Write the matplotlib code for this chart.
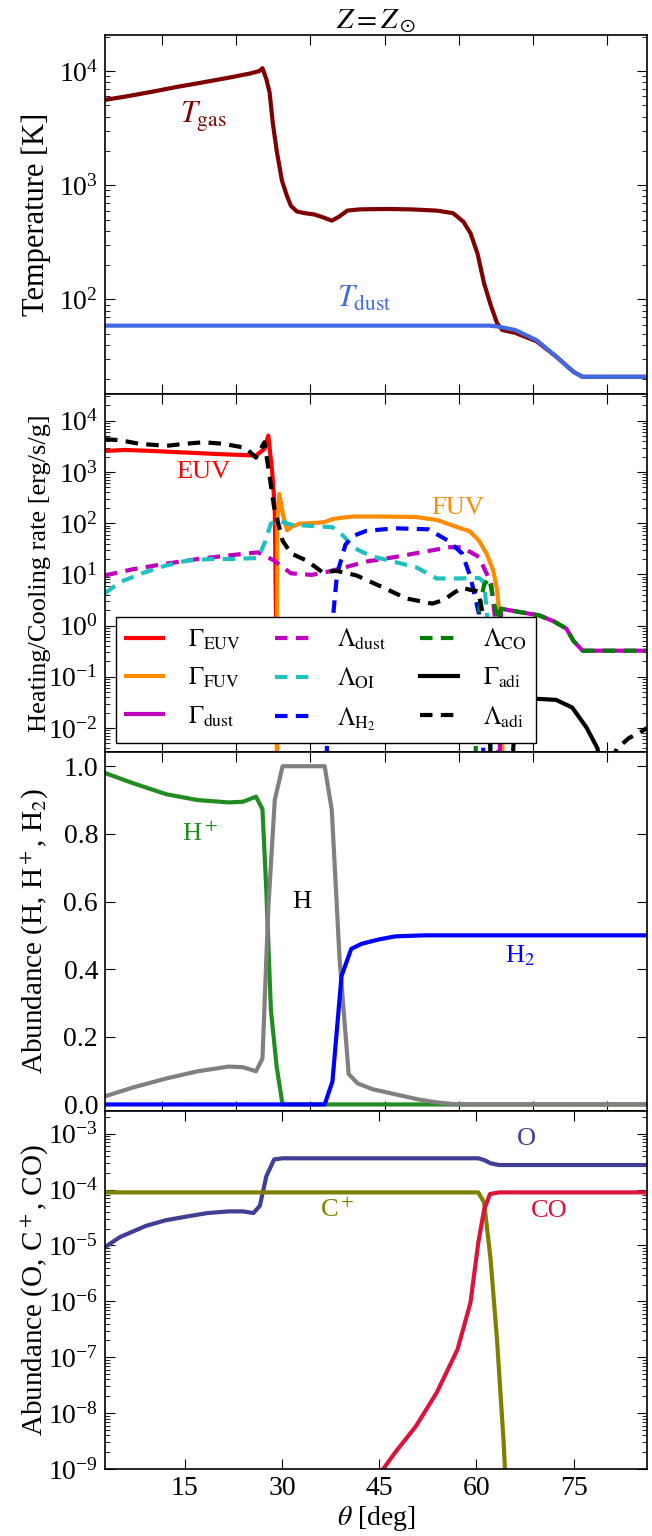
import numpy as np
import matplotlib
matplotlib.use("Agg")
import matplotlib.pyplot as plt
from matplotlib.ticker import LogLocator, NullFormatter, FixedLocator

plt.rcParams["font.family"] = "serif"
plt.rcParams["font.serif"] = ["Liberation Serif", "DejaVu Serif"]
plt.rcParams["mathtext.fontset"] = "stix"
plt.rcParams["font.size"] = 18
plt.rcParams["xtick.direction"] = "in"
plt.rcParams["ytick.direction"] = "in"
plt.rcParams["xtick.top"] = True
plt.rcParams["ytick.right"] = True
plt.rcParams["xtick.major.size"] = 7
plt.rcParams["ytick.major.size"] = 7
plt.rcParams["xtick.minor.size"] = 3.5
plt.rcParams["ytick.minor.size"] = 3.5
plt.rcParams["axes.linewidth"] = 1.2

# ---- panel 1: temperatures
th_gas = [2.7, 6, 10, 14, 18, 22, 25, 26.5, 27.0, 27.6, 28.1, 28.6, 29.2, 30.0, 30.8, 31.4,
          32.3, 33.5, 35.0, 36.5, 37.7, 38.8, 40.1, 42, 46, 50, 53.9, 56.4, 58, 59.1, 60.2,
          61.2, 62.2, 63.2, 64, 66, 69.3, 72.5, 74, 75.1, 76.4, 86.3]
T_gas = [5600, 6000, 6600, 7300, 8000, 8800, 9500, 10000, 10600, 8500, 6500, 3500, 2000, 1100,
         800, 660, 590, 570, 555, 520, 490, 530, 600, 615, 620, 615, 600, 570, 480, 380, 250,
         138, 90, 62, 54, 51, 43, 31, 26, 23, 21, 21]
th_dust = [2.7, 62.0, 63.2, 64, 66, 69.3, 72.5, 74, 75.1, 76.4, 86.3]
T_dust = [59, 59, 58, 57, 54, 44, 31, 26, 23, 21, 21]
T_ticks = [1e2, 1e3, 1e4]

# ---- panel 2: heating / cooling rates (log10 values)
th_euv = [2.7, 5.8, 10, 15, 20, 26, 27.3, 27.9, 28.5, 28.9, 29.1, 29.3]
lg_euv = [3.41, 3.43, 3.41, 3.38, 3.35, 3.32, 3.45, 3.71, 3.0, 2.3, 0.0, -3]
th_fuv = [29.2, 29.3, 29.6, 30.2, 30.8, 31.5, 32.7, 34.5, 36.6, 37.8, 39.5, 41, 45, 50.7, 54,
          57.1, 59, 60.4, 61.6, 62.6, 63.2, 63.5, 63.8, 64.1]
lg_fuv = [-3, 2.0, 2.57, 2.15, 1.86, 1.93, 1.99, 2.0, 2.02, 2.08, 2.11, 2.13, 2.13, 2.12, 2.06,
          1.92, 1.84, 1.66, 1.4, 1.08, 0.7, 0.3, -0.7, -3]
th_gdust = [63.6, 63.8, 66, 69.7, 72, 73.9, 75, 76.4, 86.3]
lg_gdust = [-3, 0.33, 0.28, 0.2, 0.08, -0.06, -0.3, -0.49, -0.49]
th_ldust = [2.7, 7, 12.2, 17, 21.8, 26.3, 28.8, 31.4, 34.6, 37, 39.8, 43, 47.5, 51, 55.8, 57.8,
            60.4, 62.3, 63.0, 63.5]
lg_ldust = [0.98, 1.1, 1.21, 1.3, 1.37, 1.43, 1.27, 1.02, 0.99, 1.05, 1.14, 1.25, 1.34, 1.42,
            1.53, 1.53, 1.34, 0.82, 0.0, -3]
th_oi = [2.7, 5, 8.4, 12, 15.4, 19, 22.4, 26.3, 27.3, 28.3, 29.5, 31.4, 34, 37.8, 39.5, 41,
         42.5, 44.3, 47.5, 50.7, 53.9, 57.1, 60.4, 61.2, 61.8, 62.3]
lg_oi = [0.63, 0.85, 1.02, 1.17, 1.27, 1.3, 1.3, 1.32, 1.6, 1.99, 2.05, 1.97, 1.95, 1.92, 1.75,
         1.53, 1.43, 1.34, 1.24, 1.14, 0.92, 0.92, 0.93, 0.85, 0.0, -3]
th_h2 = [36.8, 37.4, 38.5, 39.8, 41, 43, 47.5, 52.6, 55.6, 57.8, 59.1, 60.4, 61.2]
lg_h2 = [-3, -0.5, 1.0, 1.58, 1.75, 1.85, 1.9, 1.88, 1.66, 1.41, 0.95, 0.23, -3]
th_co = [59.8, 60.4, 61.2, 62.0, 62.8, 63.4, 63.8, 66, 69.7, 72, 73.9, 75, 76.4, 86.3]
lg_co = [-3, 0.3, 0.8, 0.92, 0.4, 0.1, 0.33, 0.28, 0.2, 0.08, -0.06, -0.3, -0.49, -0.49]
th_gadi = [65.4, 66, 67, 68.5, 69.4, 72.3, 74.8, 77, 78.7, 79.3]
lg_gadi = [-3, -1.8, -1.5, -1.43, -1.43, -1.45, -1.6, -1.99, -2.4, -3]
th_ladi = [2.7, 5, 8, 12.2, 15, 17.9, 21, 24.4, 26, 27.3, 28, 28.8, 30.1, 31.4, 33.8, 36.3,
           38.4, 41.5, 45, 49.2, 53.2, 55, 56.3, 57.8, 59, 60.3, 61.2, 61.8, 62.3]
lg_ladi = [3.64, 3.62, 3.55, 3.51, 3.55, 3.58, 3.55, 3.47, 3.28, 3.58, 3.0, 2.31, 1.66, 1.41,
           1.27, 1.04, 1.07, 0.98, 0.78, 0.53, 0.43, 0.5, 0.62, 0.74, 0.7, 0.67, 0.1, -1, -3]
th_ladi2 = [79.5, 81.7, 83.5, 85.6, 86.3]
lg_ladi2 = [-3, -2.4, -2.2, -2.06, -2.0]
rate_ticks = [1e-2, 1e-1, 1e0, 1e1, 1e2, 1e3, 1e4]

# ---- panel 3: hydrogen abundances
th_hp = [2.7, 7, 12.2, 17, 21.8, 24, 26, 27.0, 27.6, 28.3, 29.2, 30.1, 86.3]
x_hp = [0.98, 0.95, 0.917, 0.9, 0.893, 0.895, 0.91, 0.873, 0.63, 0.28, 0.11, 0.0, 0.0]
th_h = [2.7, 7, 12.2, 17, 21.8, 24, 26, 27.0, 27.9, 28.9, 30.1, 36.6, 37.7, 38.9, 40.3, 41.7,
        44, 47.5, 51, 53.9, 57, 86.3]
x_h = [0.024, 0.05, 0.077, 0.098, 0.112, 0.11, 0.098, 0.136, 0.58, 0.9, 1.0, 1.0, 0.87, 0.43,
       0.09, 0.062, 0.045, 0.03, 0.015, 0.006, 0.0, 0.0]
th_h2a = [2.7, 36.6, 37.8, 39.2, 40.7, 42.3, 45, 47.5, 52, 57, 86.3]
x_h2a = [0.0, 0.0, 0.068, 0.38, 0.46, 0.475, 0.488, 0.497, 0.5, 0.5, 0.5]

# ---- panel 4: O, C+, CO abundances (log10)
th_o = [2.7, 5, 9, 12, 15.4, 18.5, 21.8, 24, 25.6, 26.6, 27.6, 28.8, 30.1, 60.3, 61.2, 62.2,
        63.5, 86.3]
lg_o = [-5.03, -4.85, -4.65, -4.55, -4.48, -4.42, -4.39, -4.39, -4.42, -4.29, -3.76, -3.46,
        -3.44, -3.44, -3.47, -3.53, -3.56, -3.56]
th_cp = [2.7, 60.3, 61.2, 62.2, 63.2, 64.2, 64.5]
lg_cp = [-4.05, -4.05, -4.23, -5.25, -6.7, -8.5, -9.2]
th_co2 = [45.0, 47.5, 50.7, 53.9, 57.1, 59.1, 60.3, 61.2, 62.1, 63.5, 86.3]
lg_co2 = [-9.1, -8.7, -8.23, -7.63, -6.86, -6.02, -4.95, -4.36, -4.08, -4.05, -4.05]
ab_ticks = [1e-9, 1e-8, 1e-7, 1e-6, 1e-5, 1e-4, 1e-3]

xlim = (2.7, 86.3)
lw = 3

fig = plt.figure(figsize=(6.52, 15.36), dpi=100)
left, width = 0.161, 0.831
h = 0.2334
bottoms = [0.0436 + 3 * h, 0.0436 + 2 * h, 0.0436 + h, 0.0436]
axes = [fig.add_axes([left, b, width, h]) for b in bottoms]
ax1, ax2, ax3, ax4 = axes

# upper panels: ticks at 0.2 rad spacing, no labels
for ax in (ax1, ax2, ax3):
    ax.set_xlim(xlim)
    ax.xaxis.set_major_locator(FixedLocator(np.degrees([0.2, 0.4, 0.6, 0.8, 1.0, 1.2, 1.4])))
    ax.tick_params(labelbottom=False)

for ax, tk in ((ax1, T_ticks), (ax2, rate_ticks), (ax4, ab_ticks)):
    ax.set_yscale("log")
    ax.yaxis.set_major_locator(FixedLocator(tk))
    ax.yaxis.set_minor_locator(LogLocator(base=10, subs=np.arange(2, 10), numticks=30))
    ax.yaxis.set_minor_formatter(NullFormatter())

txt = 19

# panel 1
ax1.plot(th_gas, T_gas, color="#7f0000", lw=lw)
ax1.plot(th_dust, T_dust, color="#4169e1", lw=lw)
ax1.set_ylim(15, 2.07e4)
ax1.set_ylabel("Temperature [K]", fontsize=22)
ax1.text(17.9, 4000, r"$T_{\rm gas}$", color="#7f0000", ha="center", va="center", fontsize=22)
ax1.text(42.7, 100, r"$T_{\rm dust}$", color="#4169e1", ha="center", va="center", fontsize=22)
ax1.set_title(r"$Z = Z_\odot$", fontsize=21, pad=5)

# panel 2
def pw(v):
    return 10.0 ** np.array(v)

dash = (3, 2)
h_euv, = ax2.plot(th_euv, pw(lg_euv), color="red", lw=lw, label=r"$\Gamma_{\rm EUV}$")
h_fuv, = ax2.plot(th_fuv, pw(lg_fuv), color="darkorange", lw=lw, label=r"$\Gamma_{\rm FUV}$")
h_gdust, = ax2.plot(th_gdust, pw(lg_gdust), color="#bf00bf", lw=lw, label=r"$\Gamma_{\rm dust}$")
h_ldust, = ax2.plot(th_ldust, pw(lg_ldust), color="#bf00bf", lw=lw, dashes=dash, label=r"$\Lambda_{\rm dust}$")
h_oi, = ax2.plot(th_oi, pw(lg_oi), color="#20c0c0", lw=lw, dashes=dash, label=r"$\Lambda_{\rm OI}$")
h_h2, = ax2.plot(th_h2, pw(lg_h2), color="blue", lw=lw, dashes=dash, label=r"$\Lambda_{\rm H_2}$")
h_co, = ax2.plot(th_co, pw(lg_co), color="green", lw=lw, dashes=dash, label=r"$\Lambda_{\rm CO}$")
h_gadi, = ax2.plot(th_gadi, pw(lg_gadi), color="black", lw=lw, label=r"$\Gamma_{\rm adi}$")
h_ladi, = ax2.plot(th_ladi, pw(lg_ladi), color="black", lw=lw, dashes=dash, label=r"$\Lambda_{\rm adi}$")
ax2.plot(th_ladi2, pw(lg_ladi2), color="black", lw=lw, dashes=dash)
ax2.set_ylim(3.4e-3, 3.4e4)
ax2.set_ylabel("Heating/Cooling rate [erg/s/g]", fontsize=19)
ax2.text(17.9, 1000, "EUV", color="red", ha="center", va="center", fontsize=txt)
ax2.text(57.1, 200, "FUV", color="darkorange", ha="center", va="center", fontsize=txt)
leg = ax2.legend(handles=[h_euv, h_fuv, h_gdust, h_ldust, h_oi, h_h2, h_co, h_gadi, h_ladi],
                 ncol=3, loc="lower left", bbox_to_anchor=(0.02, 0.025), fontsize=18,
                 handlelength=1.5, handletextpad=1.0, columnspacing=1.35, labelspacing=0.55,
                 fancybox=False, framealpha=1, edgecolor="black", borderaxespad=0.0)
leg.get_frame().set_linewidth(1.0)

# panel 3
ax3.plot(th_hp, x_hp, color="#228b22", lw=lw)
ax3.plot(th_h, x_h, color="gray", lw=lw)
ax3.plot(th_h2a, x_h2a, color="blue", lw=lw)
ax3.set_ylim(-0.018, 1.042)
ax3.set_yticks([0.0, 0.2, 0.4, 0.6, 0.8, 1.0])
ax3.set_ylabel(r"Abundance (H, H$^+$, H$_2$)", fontsize=21)
ax3.text(17.3, 0.8, r"H$^+$", color="#228b22", ha="center", va="center", fontsize=txt)
ax3.text(33.0, 0.6, "H", color="black", ha="center", va="center", fontsize=txt)
ax3.text(66.8, 0.44, r"H$_2$", color="blue", ha="center", va="center", fontsize=txt)

# panel 4
ax4.plot(th_o, pw(lg_o), color="#3f3f95", lw=lw)
ax4.plot(th_cp, pw(lg_cp), color="#808000", lw=lw)
ax4.plot(th_co2, pw(lg_co2), color="#dc143c", lw=lw)
ax4.set_xlim(xlim)
ax4.set_xticks([15, 30, 45, 60, 75])
ax4.set_ylim(1e-9, 2.6e-3)
ax4.set_ylabel(r"Abundance (O, C$^+$, CO)", fontsize=21)
ax4.set_xlabel(r"$\theta$ [deg]", fontsize=20, labelpad=2)
ax4.text(67.7, 7.9e-4, "O", color="#3f3f95", ha="center", va="center", fontsize=txt)
ax4.text(38.5, 4.4e-5, r"C$^+$", color="#808000", ha="center", va="center", fontsize=txt)
ax4.text(71.2, 4.2e-5, "CO", color="#dc143c", ha="center", va="center", fontsize=txt)

for ax in axes:
    ax.tick_params(labelsize=20, pad=5)
    ax.yaxis.set_label_coords(-0.1, 0.5)

fig.savefig("out.png", dpi=100, facecolor="white")
